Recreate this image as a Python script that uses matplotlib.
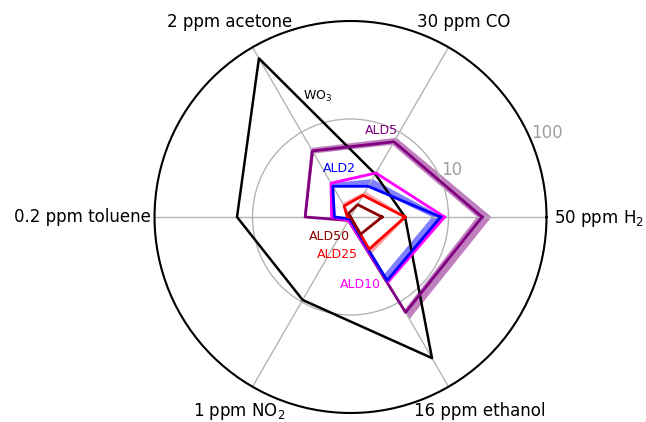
import numpy as np
import matplotlib
matplotlib.use("Agg")
import matplotlib.pyplot as plt

categories = ["50 ppm H$_2$", "30 ppm CO", "2 ppm acetone", "0.2 ppm toluene",
              "1 ppm NO$_2$", "16 ppm ethanol"]
angles_deg = [0, 60, 120, 180, 240, 300]

wo3 = [3.6, 3.2, 74, 14.4, 9.5, 46]
ald5 = [22, 7.7, 6.0, 2.9, 1.1, 13.3]
ald5_lo = [19.5, 7.1, 5.6, 2.85, 1.1, 12.5]
ald5_hi = [27.5, 8.6, 6.5, 3.0, 1.1, 16.0]
ald10 = [9.1, 3.3, 2.5, 1.56, 1.1, 5.8]
ald10_lo = [8.8, 3.2, 2.4, 1.5, 1.1, 5.6]
ald10_hi = [9.6, 3.4, 2.6, 1.6, 1.1, 6.1]
ald2 = [8.3, 2.3, 2.3, 1.46, 1.05, 5.6]
ald2_lo = [6.8, 2.3, 2.25, 1.42, 1.05, 4.8]
ald2_hi = [8.8, 2.8, 2.5, 1.5, 1.05, 5.9]
ald25 = [3.6, 1.8, 1.35, 1.08, 1.0, 2.4]
ald25_lo = [3.5, 1.75, 1.3, 1.05, 1.0, 2.3]
ald25_hi = [3.8, 2.0, 1.45, 1.1, 1.0, 2.7]
ald50 = [2.1, 1.4, 1.1, 1.0, 1.0, 1.6]

rticks = [10, 100]
rtick_labels = ["10", "100"]

theta = np.deg2rad(angles_deg)


def closed(v):
    v = list(v)
    return np.array(v + v[:1])


th_c = np.append(theta, theta[0] + 2 * np.pi)

fig = plt.figure(figsize=(6.46, 4.22), dpi=100)
ax = fig.add_axes([0.2392, 0.0213, 0.6068, 0.929], projection="polar")
ax.set_rscale("log")
ax.set_rlim(1, 100)


def band(lo, hi, color, alpha):
    t = np.concatenate([th_c, th_c[::-1]])
    r = np.concatenate([closed(hi), closed(lo)[::-1]])
    ax.fill(t, r, color=color, alpha=alpha, lw=0)


band(ald5_lo, ald5_hi, "purple", 0.5)
band(ald2_lo, ald2_hi, "blue", 0.5)
band(ald10_lo, ald10_hi, "magenta", 0.3)
band(ald25_lo, ald25_hi, "red", 0.35)

ax.plot(th_c, closed(wo3), color="black", lw=1.8)
ax.plot(th_c, closed(ald5), color="purple", lw=2)
ax.plot(th_c, closed(ald10), color="magenta", lw=2)
ax.plot(th_c, closed(ald2), color="blue", lw=2)
ax.plot(th_c, closed(ald25), color="red", lw=2)
ax.plot(th_c, closed(ald50), color="darkred", lw=2)

ax.set_xticks(theta)
ax.set_xticklabels([])
ax.set_rticks(rticks)
ax.set_yticklabels(rtick_labels, fontsize=12, color="#a0a0a0")
ax.yaxis.set_minor_locator(matplotlib.ticker.NullLocator())
ax.grid(True, color="#b4b4b4", lw=1)
ax.spines["polar"].set_linewidth(1.5)
ax.set_rlabel_position(22.5)


def px(x, y):
    return x / 646, 1 - y / 422


# category labels placed around the outer circle
label_pos = [(554, 223, "left"), (417, 27, "left"), (167, 27, "left"),
             (151, 222, "right"), (193, 416, "left"), (414, 416, "left")]
for name, (x, y, ha) in zip(categories, label_pos):
    fig.text(*px(x, y), name, fontsize=12, ha=ha, va="baseline", color="black")

fs = 9
fig.text(*px(318, 96), "WO$_3$", color="black", fontsize=fs, ha="center", va="center")
fig.text(*px(381, 131), "ALD5", color="purple", fontsize=fs, ha="center", va="center")
fig.text(*px(339, 168), "ALD2", color="blue", fontsize=fs, ha="center", va="center")
fig.text(*px(329, 237), "ALD50", color="darkred", fontsize=fs, ha="center", va="center")
fig.text(*px(337, 255), "ALD25", color="red", fontsize=fs, ha="center", va="center")
fig.text(*px(360, 285), "ALD10", color="magenta", fontsize=fs, ha="center", va="center")

fig.savefig("out.png", dpi=100)
